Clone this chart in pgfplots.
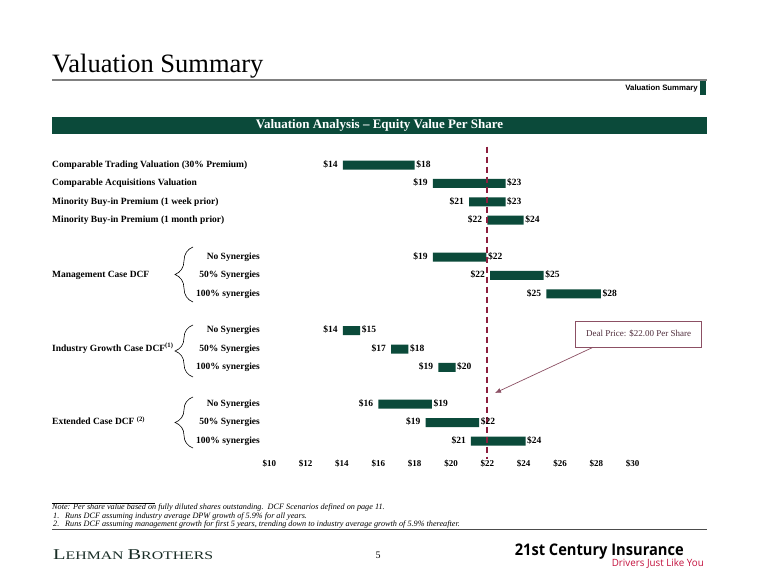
\documentclass[border=0pt]{standalone}
\usepackage{pgfplots}
\pgfplotsset{compat=1.18}
\usepackage{pgfplotstable}
\usepackage{fontspec}
\setmainfont{Liberation Serif}
\newfontfamily\arialfont{Liberation Sans}
\newfontfamily\osfont{Open Sans}
\usetikzlibrary{decorations.pathreplacing,arrows.meta}
\definecolor{dkgreen}{RGB}{11,74,58}
\definecolor{deal}{RGB}{139,30,62}
\definecolor{callout}{RGB}{140,80,100}
\definecolor{callouttext}{RGB}{80,45,60}
\definecolor{crimson}{RGB}{196,18,62}
\definecolor{lehman}{RGB}{25,45,38}

\pgfplotstableread{
row low high lowlab highlab
0 14.05 18.00 14 18
1 19.00 23.00 19 23
2 21.00 23.00 21 23
3 22.00 24.00 22 24
5 19.00 21.95 19 22
6 22.15 25.10 22 25
7 25.25 28.25 25 28
9 14.05 15.00 14 15
10 16.70 17.65 17 18
11 19.30 20.25 19 20
13 16.00 18.95 16 19
14 18.60 21.55 19 22
15 21.10 24.10 21 24
}\valtable

\begin{document}
\begin{tikzpicture}[x=1pt,y=1pt,
  lab/.style={font=\bfseries\fontsize{9.5}{11}\selectfont, inner sep=0pt},
  fn/.style={anchor=mid west, inner sep=0pt, font=\itshape\fontsize{8.2}{9}\selectfont}]
\fill[white] (0,0) rectangle (757,587);
% title
\node[anchor=base west, inner sep=0pt, font=\fontsize{26.5}{30}\selectfont] at (52,514) {Valuation Summary};
\draw[gray, line width=1.5pt] (52,507) -- (707,507);
\node[anchor=base east, inner sep=0pt, font=\arialfont\bfseries\fontsize{7.8}{9}\selectfont] at (698,496.5) {Valuation Summary};
\fill[dkgreen] (700,492) rectangle (706,506);
% header bar
\fill[dkgreen] (52,453) rectangle (707,470);
\node[text=white, font=\bfseries\fontsize{13}{15}\selectfont, inner sep=0pt] at (379.5,461.5) {Valuation Analysis -- Equity Value Per Share};
% row labels
\node[lab, anchor=mid west] at (52,422) {Comparable Trading Valuation (30\% Premium)};
\node[lab, anchor=mid west] at (52,403.6) {Comparable Acquisitions Valuation};
\node[lab, anchor=mid west] at (52,385.2) {Minority Buy-in Premium (1 week prior)};
\node[lab, anchor=mid west] at (52,366.8) {Minority Buy-in Premium (1 month prior)};
\foreach \yy in {330,256.4,182.8} {
  \node[lab, anchor=mid east] at (260,\yy) {No Synergies};
  \node[lab, anchor=mid east] at (260,\yy-18.4) {50\% Synergies};
  \node[lab, anchor=mid east] at (260,\yy-36.8) {100\% synergies};
}
\node[lab, anchor=mid west] at (52,311.6) {Management Case DCF};
\node[lab, anchor=mid west] at (52,238) {Industry Growth Case DCF\textsuperscript{(1)}};
\node[lab, anchor=mid west] at (52,164.4) {Extended Case DCF \textsuperscript{(2)}};
% braces
\draw[decorate, decoration={brace, amplitude=18pt, aspect=0.5}, line width=0.6pt] (193,285) -- (193,340);
\draw[decorate, decoration={brace, amplitude=18pt, aspect=0.5}, line width=0.6pt] (193,210) -- (193,262);
\draw[decorate, decoration={brace, amplitude=18pt, aspect=0.5}, line width=0.6pt] (193,139) -- (193,190);

% bars
\begin{axis}[at={(269.3pt,127.6pt)}, anchor=south west, scale only axis,
  width=363.4pt, height=312.8pt,
  xmin=10, xmax=30, ymin=-1, ymax=16, y dir=reverse,
  xbar stacked, bar width=9pt,
  axis line style={draw=none}, tick style={draw=none}, major tick length=0pt,
  ytick=\empty,
  xtick={10,12,14,16,18,20,22,24,26,28,30},
  xticklabels={\$10,\$12,\$14,\$16,\$18,\$20,\$22,\$24,\$26,\$28,\$30},
  xticklabel style={font=\bfseries\fontsize{9}{10}\selectfont, inner sep=0pt, anchor=north}]
\addplot[draw=none, fill=none] table[x=low, y=row] {\valtable};
\addplot[draw=none, fill=dkgreen] table[x expr=\thisrow{high}-\thisrow{low}, y=row] {\valtable};
\end{axis}
% deal price line and value labels
\begin{axis}[at={(269.3pt,127.6pt)}, anchor=south west, scale only axis,
  width=363.4pt, height=312.8pt,
  xmin=10, xmax=30, ymin=-1, ymax=16, y dir=reverse, hide axis, clip=false]
\addplot[deal, mark=none, line width=2pt, dash pattern=on 6pt off 4pt] coordinates {(22,-1) (22,16)};
\addplot[draw=none, mark=none, point meta=explicit symbolic,
  nodes near coords={\$\pgfplotspointmeta},
  nodes near coords style={anchor=mid east, xshift=-5pt, inner sep=0pt, font=\bfseries\fontsize{9.5}{11}\selectfont}]
  table[x=low, y=row, meta=lowlab] {\valtable};
\addplot[draw=none, mark=none, point meta=explicit symbolic,
  nodes near coords={\$\pgfplotspointmeta},
  nodes near coords style={anchor=mid west, xshift=1.5pt, inner sep=0pt, font=\bfseries\fontsize{9.5}{11}\selectfont}]
  table[x=high, y=row, meta=highlab] {\valtable};
\end{axis}
% callout
\draw[callout, line width=0.8pt, fill=white] (575.7,239.7) rectangle (701.7,266);
\node[text=callouttext, font=\fontsize{9}{10}\selectfont, inner sep=0pt] at (638.7,253) {Deal Price: \$22.00 Per Share};
\draw[callout, line width=0.7pt, -{Latex[length=6pt,width=5pt]}] (593,239.7) -- (495,194);
% footnotes
\draw[black, line width=0.6pt] (52,84) -- (155,84);
\node[fn] at (52,79.5) {Note: Per share value based on fully diluted shares outstanding.\ \ DCF Scenarios defined on page 11.};
\node[fn] at (53,71) {1.};
\node[fn] at (65,71) {Runs DCF assuming industry average DPW growth of 5.9\% for all years.};
\node[fn] at (53,62.5) {2.};
\node[fn] at (65,62.5) {Runs DCF assuming management growth for first 5 years, trending down to industry average growth of 5.9\% thereafter.};
\draw[gray!60!black, line width=1pt] (52,58) -- (707,58);
% footer
\node[anchor=west, inner sep=0pt, text=lehman] at (53,32) {\resizebox{160pt}{\height}{\fontsize{15}{15}\selectfont L\fontsize{11.6}{12}\selectfont EHMAN \fontsize{15}{15}\selectfont B\fontsize{11.6}{12}\selectfont ROTHERS}};
\node[inner sep=0pt, font=\fontsize{10}{11}\selectfont] at (378,32) {5};
\node[anchor=east, inner sep=0pt] at (684,35) {\resizebox{169pt}{\height}{\osfont\bfseries\fontsize{16}{17}\selectfont 21st Century Insurance}};
\node[anchor=east, inner sep=0pt, text=crimson] at (704,23) {\resizebox{92pt}{\height}{\osfont\fontsize{10}{11}\selectfont Drivers Just Like You}};
\end{tikzpicture}
\end{document}
